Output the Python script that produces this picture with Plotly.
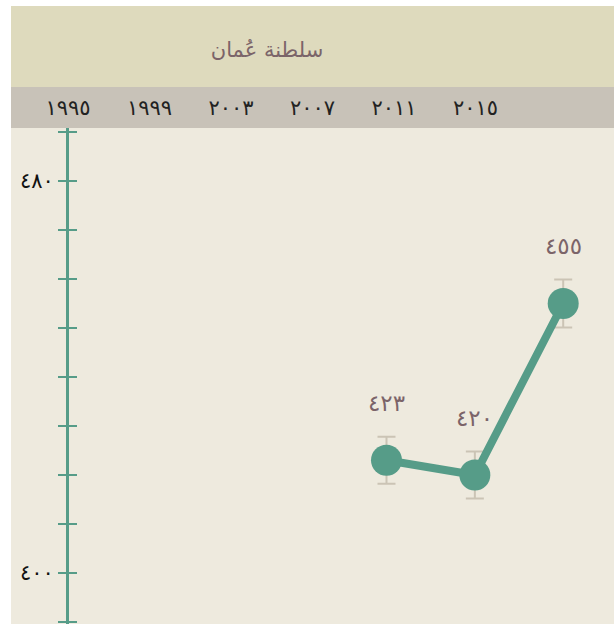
import plotly.graph_objects as go

# ---- data ----
title_text = "سلطنة عُمان"
years = [2007, 2011, 2015]
scores = [423, 420, 455]
score_labels = ["٤٢٣", "٤٢٠", "٤٥٥"]
errors = [4.8, 4.8, 4.9]
axis_years = [1995, 1999, 2003, 2007, 2011, 2015]
axis_year_labels = ["١٩٩٥", "١٩٩٩", "٢٠٠٣", "٢٠٠٧", "٢٠١١", "٢٠١٥"]
y_tickvals = [390, 400, 410, 420, 430, 440, 450, 460, 470, 480, 490]
y_ticktext = ["", "٤٠٠", "", "", "", "", "", "", "", "٤٨٠", ""]

GREEN = "#569C88"
LABEL = "#7B6469"
FONT = "DejaVu Sans"

fig = go.Figure()

# error bars (drawn behind markers)
fig.add_trace(go.Scatter(
    x=years, y=scores, mode="markers", marker=dict(opacity=0, size=1),
    error_y=dict(type="data", array=errors, color="#CBC4B5", thickness=2, width=9),
    hoverinfo="skip", showlegend=False, xaxis="x", yaxis="y",
))
fig.add_trace(go.Scatter(
    x=years, y=scores, mode="lines+markers",
    line=dict(color=GREEN, width=8),
    marker=dict(color=GREEN, size=31),
    hoverinfo="skip", showlegend=False, xaxis="x", yaxis="y",
))
# invisible trace to activate overlay axes
fig.add_trace(go.Scatter(x=[axis_years[0]], y=[scores[0]], mode="markers",
                         marker=dict(opacity=0), showlegend=False,
                         hoverinfo="skip", xaxis="x2", yaxis="y2"))

for x, y, t in zip(years, scores, score_labels):
    fig.add_annotation(x=x, y=y, text=t, showarrow=False, yshift=57,
                       font=dict(family=FONT, size=23, color=LABEL),
                       xref="x", yref="y")

yrange = [389.6, 490.8]
ypos = (67 - 11) / 603

fig.update_layout(
    width=614, height=624,
    margin=dict(l=11, r=0, t=128, b=0, pad=0),
    paper_bgcolor="white",
    plot_bgcolor="#EEEADE",
    showlegend=False,
    title=dict(text=title_text, x=(267 - 11) / 603, xref="paper", xanchor="center",
               y=1 - 50 / 624, yref="container", yanchor="middle",
               font=dict(family=FONT, size=21, color=LABEL)),
    xaxis=dict(range=[1990.0, 2017.3], visible=False, domain=[0, 1]),
    xaxis2=dict(range=[1992.2, 2021.8], overlaying="x", side="top", anchor="free", position=1,
                tickvals=axis_years, ticktext=axis_year_labels, ticks="",
                showline=False, showgrid=False, zeroline=False,
                ticklabelstandoff=9,
                tickfont=dict(family=FONT, size=21, color="#222222")),
    yaxis=dict(range=yrange, anchor="free", position=ypos,
               tickvals=y_tickvals, ticktext=y_ticktext,
               ticks="outside", ticklen=8, tickwidth=2, tickcolor=GREEN,
               showline=True, linecolor=GREEN, linewidth=3,
               showgrid=False, zeroline=False,
               tickfont=dict(family=FONT, size=21, color="#111111")),
    yaxis2=dict(range=yrange, overlaying="y", anchor="free", position=ypos,
                tickvals=y_tickvals, ticks="inside", ticklen=9, tickwidth=2, tickcolor=GREEN,
                showticklabels=False, showline=False, showgrid=False, zeroline=False),
    shapes=[
        dict(type="rect", xref="paper", yref="paper", x0=0, x1=1,
             y0=1 + 41 / 496, y1=1 + 122 / 496, fillcolor="#DEDABD", line=dict(width=0), layer="below"),
        dict(type="rect", xref="paper", yref="paper", x0=0, x1=1,
             y0=1, y1=1 + 41 / 496, fillcolor="#C8C2B8", line=dict(width=0), layer="below"),
    ],
)

fig.write_html("out.html", config={"displayModeBar": False},
               post_script="document.body.style.margin='0';document.body.style.overflow='hidden';")
